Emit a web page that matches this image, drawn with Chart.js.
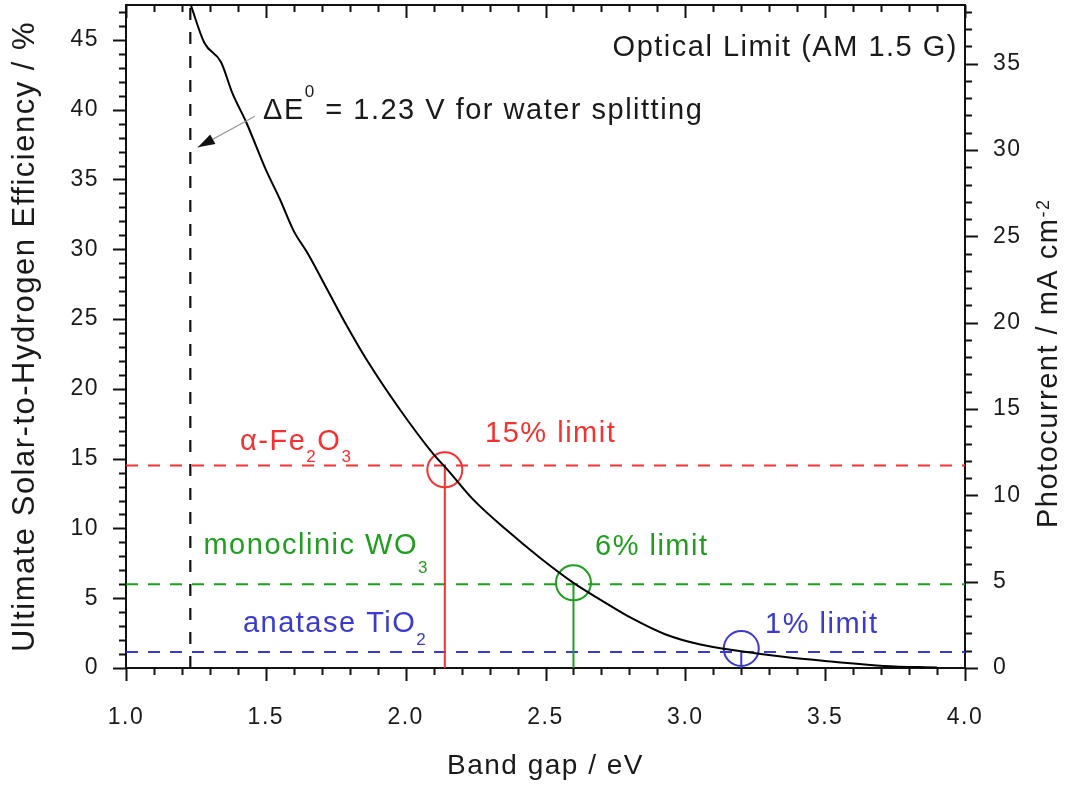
<!DOCTYPE html>
<html>
<head>
<meta charset="utf-8">
<script src="https://cdn.jsdelivr.net/npm/chart.js@4.4.1/dist/chart.umd.min.js"></script>
<style>
  html, body { margin: 0; padding: 0; background: #ffffff; }
  #wrap { width: 1073px; height: 791px; position: relative; }
</style>
</head>
<body>
<div id="wrap"><canvas id="c"></canvas></div>
<script>
// ---------------- data ----------------
const bandGap    = [1.23, 1.28, 1.34, 1.38, 1.43, 1.50, 1.55, 1.60, 1.65, 1.72, 1.79, 1.86, 1.98, 2.10, 2.15, 2.24, 2.36, 2.48, 2.60, 2.70, 2.81, 2.93, 3.05, 3.20, 3.35, 3.53, 3.71, 3.90];
const efficiency = [47.6, 44.8, 43.4, 41.2, 39.1, 35.7, 33.6, 31.3, 29.7, 27.1, 24.5, 22.1, 18.5, 15.3, 14.2, 12.1, 9.9, 7.9, 6.1, 4.85, 3.55, 2.4, 1.7, 1.2, 0.8, 0.45, 0.15, 0.03];

const waterSplittingGap = 1.23;

const materialNames  = ['α-Fe2O3', 'monoclinic WO3', 'anatase TiO2'];
const materialGap    = [2.14, 2.60, 3.20];
const materialLimit  = [14.5, 6.0, 1.15];
const materialCircle = [14.2, 6.1, 1.4];
const limitLabels    = ['15% limit', '6% limit', '1% limit'];

const xMin = 1.0, xMax = 4.0;
const effMax = 47.5;
const currentMax = 38.4;

// ---------------- styles ----------------
const FONT = '"Liberation Sans", Arial, Helvetica, sans-serif';
const TXT = '#1a1a1a';
const materialColors = ['#f43232', '#1f9e1f', '#3a3ad2'];

// annotation layout (data coordinates)
const materialLabelPos = [
  { x: 1.408, y: 15.64, parts: [['α-Fe'], ['2', 'sub'], ['O'], ['3', 'sub']], subDrop: 12 },
  { x: 1.277, y: 8.18,  parts: [['monoclinic WO'], ['3', 'sub']], subDrop: 19 },
  { x: 1.418, y: 2.58,  parts: [['anatase TiO'], ['2', 'sub']], subDrop: 13 }
];
const limitLabelPos = [ { x: 2.284, y: 16.21 }, { x: 2.677, y: 8.11 }, { x: 3.285, y: 2.51 } ];

// ---------------- datasets ----------------
const datasets = [];
datasets.push({
  data: bandGap.map((g, i) => ({ x: g, y: efficiency[i] })),
  showLine: true, borderColor: '#000', borderWidth: 2, pointRadius: 0,
  cubicInterpolationMode: 'monotone', order: 0
});
datasets.push({
  data: [{ x: waterSplittingGap, y: 0 }, { x: waterSplittingGap, y: effMax }],
  showLine: true, borderColor: '#111', borderWidth: 2.2, borderDash: [12, 12], pointRadius: 0, order: 5
});
materialGap.forEach((g, i) => {
  datasets.push({
    data: [{ x: xMin, y: materialLimit[i] }, { x: xMax, y: materialLimit[i] }],
    showLine: true, borderColor: materialColors[i], borderWidth: 2, borderDash: [12, 10], pointRadius: 0, order: 4
  });
  datasets.push({
    data: [{ x: g, y: 0 }, { x: g, y: materialLimit[i] }],
    showLine: true, borderColor: materialColors[i], borderWidth: 2, pointRadius: 0, order: 3
  });
  datasets.push({
    data: [{ x: g, y: materialCircle[i] }],
    showLine: false, pointStyle: 'circle', pointRadius: 17.5, pointBorderWidth: 2,
    pointBorderColor: materialColors[i], pointBackgroundColor: 'rgba(0,0,0,0)', order: 2
  });
});

// ---------------- helpers ----------------
function drawParts(ctx, x, y, parts, size, subSize, subDrop, color) {
  ctx.fillStyle = color;
  ctx.textBaseline = 'alphabetic';
  ctx.textAlign = 'left';
  let cx = x;
  parts.forEach(p => {
    const kind = p[1];
    if (kind === 'sub') {
      ctx.font = subSize + 'px ' + FONT;
      ctx.fillText(p[0], cx, y + subDrop);
    } else if (kind === 'sup') {
      ctx.font = subSize + 'px ' + FONT;
      ctx.fillText(p[0], cx, y - subDrop);
    } else {
      ctx.font = size + 'px ' + FONT;
      ctx.fillText(p[0], cx, y);
    }
    cx += ctx.measureText(p[0]).width;
  });
}

const framePlugin = {
  id: 'frame',
  beforeDraw(chart) {
    chart.ctx.letterSpacing = '1.5px';
  },
  beforeDatasetsDraw(chart) {
    chart.ctx.letterSpacing = '0px';
  },
  afterDraw(chart) {
    const ctx = chart.ctx;
    const a = chart.chartArea;
    const sx = chart.scales.x, sy = chart.scales.y, sy2 = chart.scales.y2;
    ctx.save();
    ctx.letterSpacing = '0px';
    ctx.strokeStyle = '#111';
    ctx.lineWidth = 2;
    ctx.lineCap = 'butt';
    const line = (x1, y1, x2, y2) => { ctx.beginPath(); ctx.moveTo(x1, y1); ctx.lineTo(x2, y2); ctx.stroke(); };
    // top frame
    line(a.left - 1, a.top, a.right + 1, a.top);
    // x ticks (bottom outward, top inward)
    for (let i = 0; i <= Math.round((xMax - xMin) * 10); i++) {
      const v = xMin + i * 0.1;
      const px = Math.round(sx.getPixelForValue(v)) + 0.5;
      const L = (i % 5 === 0) ? 13 : 7;
      line(px, a.bottom, px, a.bottom + L);
      line(px, a.top, px, a.top + L);
    }
    // left ticks (outward)
    for (let v = 0; v <= Math.floor(effMax); v++) {
      const py = Math.round(sy.getPixelForValue(v)) + 0.5;
      const L = (v % 5 === 0) ? 13 : 7;
      line(a.left - L, py, a.left, py);
    }
    // right ticks (outward)
    for (let v = 0; v <= Math.floor(currentMax); v++) {
      const py = Math.round(sy2.getPixelForValue(v)) + 0.5;
      const L = (v % 5 === 0) ? 13 : 7;
      line(a.right, py, a.right + L, py);
    }

    // annotations
    ctx.letterSpacing = '1.5px';
    ctx.font = '29px ' + FONT;
    ctx.fillStyle = TXT;
    ctx.textAlign = 'right';
    ctx.textBaseline = 'alphabetic';
    ctx.fillText('Optical Limit (AM 1.5 G)', sx.getPixelForValue(3.975), sy.getPixelForValue(43.83));

    drawParts(ctx, sx.getPixelForValue(1.49), sy.getPixelForValue(39.3),
      [['ΔE'], ['0', 'sup'], [' = 1.23 V for water splitting']], 29, 17, 22, TXT);

    // arrow
    ctx.letterSpacing = '0px';
    const tx = sx.getPixelForValue(1.461), ty = sy.getPixelForValue(39.53);
    const hx = sx.getPixelForValue(1.257), hy = sy.getPixelForValue(37.30);
    ctx.strokeStyle = '#9a9a9a';
    ctx.lineWidth = 1.3;
    line(tx, ty, hx, hy);
    const ang = Math.atan2(hy - ty, hx - tx);
    const AL = 17, AW = 5.5;
    ctx.fillStyle = '#111';
    ctx.beginPath();
    ctx.moveTo(hx, hy);
    ctx.lineTo(hx - AL * Math.cos(ang) + AW * Math.sin(ang), hy - AL * Math.sin(ang) - AW * Math.cos(ang));
    ctx.lineTo(hx - AL * Math.cos(ang) - AW * Math.sin(ang), hy - AL * Math.sin(ang) + AW * Math.cos(ang));
    ctx.closePath();
    ctx.fill();

    ctx.letterSpacing = '1.5px';
    materialLabelPos.forEach((m, i) => {
      drawParts(ctx, sx.getPixelForValue(m.x), sy.getPixelForValue(m.y), m.parts, 29, 17, m.subDrop, materialColors[i]);
      const l = limitLabelPos[i];
      drawParts(ctx, sx.getPixelForValue(l.x), sy.getPixelForValue(l.y), [[limitLabels[i]]], 29, 17, 0, materialColors[i]);
    });

    // right axis title with superscript
    ctx.save();
    ctx.translate(a.right + 92, a.bottom - 140);
    ctx.rotate(-Math.PI / 2);
    drawParts(ctx, 0, 0, [['Photocurrent / mA cm'], ['-2', 'sup']], 29, 18, 8, TXT);
    ctx.restore();

    ctx.restore();
  }
};

function fixV(width) {
  return s => { s.width = width; s.paddingTop = 0; s.paddingBottom = 0; s.paddingLeft = 0; s.paddingRight = 0; };
}

// ---------------- chart ----------------
new Chart(document.getElementById('c'), {
  type: 'scatter',
  data: { datasets },
  options: {
    responsive: true,
    maintainAspectRatio: false,
    animation: false,
    layout: { autoPadding: false, padding: { top: 5, left: 0, right: 0, bottom: 0 } },
    plugins: { legend: { display: false }, tooltip: { enabled: false } },
    scales: {
      x: {
        type: 'linear', position: 'bottom', min: xMin, max: xMax,
        grid: { display: false, drawTicks: false },
        border: { display: true, color: '#111', width: 2 },
        ticks: {
          stepSize: 0.5, autoSkip: false, maxRotation: 0, padding: 36,
          font: { family: FONT, size: 23 }, color: TXT,
          callback: v => Number(v).toFixed(1)
        },
        title: { display: true, text: 'Band gap / eV', color: TXT, font: { family: FONT, size: 28 }, padding: { top: 0, bottom: 8 } },
        afterFit: s => { s.height = 123; s.paddingTop = 0; s.paddingBottom = 0; s.paddingLeft = 0; s.paddingRight = 0; }
      },
      y: {
        type: 'linear', position: 'left', min: 0, max: effMax,
        grid: { display: false, drawTicks: false },
        border: { display: true, color: '#111', width: 2 },
        ticks: {
          stepSize: 5, autoSkip: false, includeBounds: false, padding: 27,
          font: { family: FONT, size: 23 }, color: TXT,
          callback: v => (v % 5 === 0 ? String(v) : '')
        },
        title: { display: true, text: 'Ultimate Solar-to-Hydrogen Efficiency / %', color: TXT, font: { family: FONT, size: 31 }, padding: { top: 7, bottom: 0 } },
        afterFit: fixV(126)
      },
      y2: {
        type: 'linear', position: 'right', min: 0, max: currentMax,
        grid: { display: false, drawTicks: false },
        border: { display: true, color: '#111', width: 2 },
        ticks: {
          stepSize: 5, autoSkip: false, includeBounds: false, padding: 28,
          font: { family: FONT, size: 23 }, color: TXT,
          callback: v => (v % 5 === 0 ? String(v) : '')
        },
        afterFit: fixV(108)
      }
    }
  },
  plugins: [framePlugin]
});
</script>
</body>
</html>
